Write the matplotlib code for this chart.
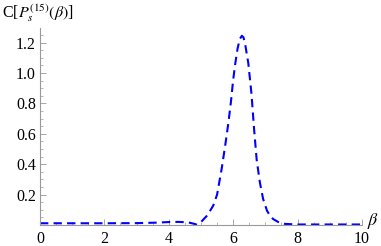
import matplotlib.pyplot as plt
from matplotlib.ticker import MultipleLocator, FixedLocator

# values
beta = [0.0, 1.0, 2.0, 3.0, 3.6, 4.0, 4.3, 4.6, 4.87, 5.0, 5.2, 5.38, 5.5, 5.64,
        5.75, 5.85, 5.93, 6.0, 6.07, 6.14, 6.21, 6.27, 6.32, 6.38, 6.47, 6.57,
        6.65, 6.73, 6.83, 6.93, 7.05, 7.15, 7.24, 7.4, 7.6, 8.0, 9.0, 10.0]
cval = [0.012, 0.012, 0.012, 0.013, 0.016, 0.02, 0.021, 0.018, 0.004, 0.02,
        0.065, 0.128, 0.2, 0.367, 0.52, 0.67, 0.81, 0.955, 1.07, 1.165, 1.225,
        1.245, 1.235, 1.18, 1.065, 0.86, 0.63, 0.43, 0.28, 0.172, 0.095, 0.06,
        0.04, 0.02, 0.008, 0.004, 0.004, 0.004]

yticks = [0.2, 0.4, 0.6, 0.8, 1.0, 1.2]
xticks = [0, 2, 4, 6, 8, 10]

plt.rcParams['font.family'] = 'Liberation Serif'
plt.rcParams['mathtext.fontset'] = 'stix'

fig = plt.figure(figsize=(3.81, 2.46), dpi=100)
ax = fig.add_axes([0.105, 0.085, 0.845, 0.801])

ax.plot(beta, cval, color='#0000ff', lw=1.5, ls=(0, (4, 2.5)))

ax.set_xlim(0, 10)
ax.set_ylim(0, 1.296)

for side in ['top', 'right']:
    ax.spines[side].set_visible(False)
for side in ['left', 'bottom']:
    ax.spines[side].set_color('#999999')
    ax.spines[side].set_linewidth(0.8)

ax.xaxis.set_major_locator(FixedLocator(xticks))
ax.xaxis.set_minor_locator(MultipleLocator(0.5))
ax.yaxis.set_major_locator(FixedLocator(yticks))
ax.yaxis.set_minor_locator(MultipleLocator(0.05))
ax.set_yticklabels([f"{v:.1f}" for v in yticks])
ax.set_xticklabels([str(v) for v in xticks])
ax.tick_params(which='major', direction='in', length=4, width=0.6,
               color='#999999', labelsize=11.5, pad=3)
ax.tick_params(axis='x', which='major', pad=4)
ax.tick_params(which='minor', direction='in', length=2, width=0.5,
               color='#999999')

fig.text(0.005, 0.945, r'C[$P_s^{(15)}(\beta)$]', fontsize=11.5, ha='left',
         va='center')
fig.text(0.962, 0.1, r'$\beta$', fontsize=13, ha='left', va='center')

fig.savefig('out.png', dpi=100)
